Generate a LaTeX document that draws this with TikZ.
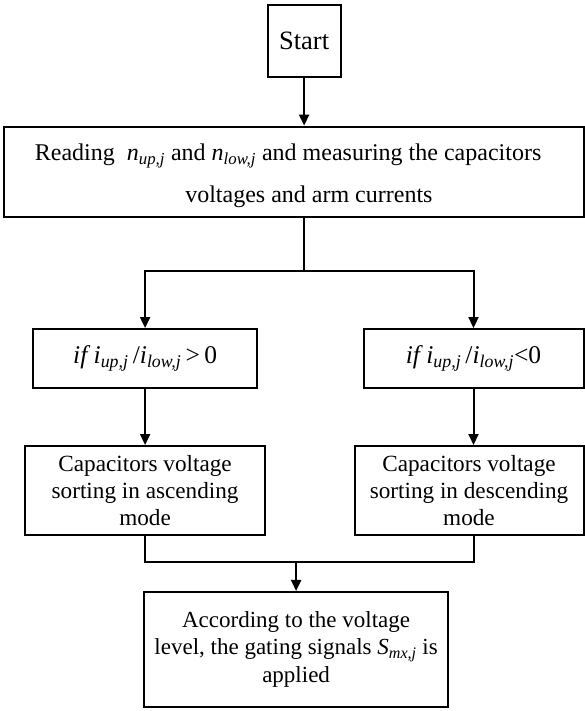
\documentclass[tikz,border=0pt]{standalone}
\usepackage{fontspec}
\setmainfont{Liberation Serif}
\usetikzlibrary{arrows.meta}
\newcommand{\sub}[1]{\textsubscript{\textit{#1}}}
\begin{document}
\begin{tikzpicture}[x=1pt,y=-1pt,
  font=\fontsize{23.2}{26.7}\selectfont,
  stepbox/.style={draw, line width=2pt, inner sep=0pt, align=center},
  conn/.style={line width=2pt},
  arr/.style={conn, -{Triangle[length=11pt,width=10pt]}}]
\useasboundingbox (0,0) rectangle (585,711);

\node[stepbox, minimum width=73, minimum height=72,
  font=\fontsize{26.5}{30}\selectfont] (start) at (304.1,41) {Start};
\node[stepbox, minimum width=580.5, minimum height=90,
  label={[align=center, xshift=15pt, yshift=-4pt,
          font=\fontsize{24}{41.7}\selectfont]center:{Reading\ \ \textit{n}\sub{up,j} and \textit{n}\sub{low,j} and measuring the capacitors\hspace*{41.6pt}\\voltages and arm currents}}]
  (read) at (293.9,171.6) {};
\node[stepbox, minimum width=224.7, minimum height=59.3,
  font=\fontsize{25.5}{30}\selectfont] (ifL) at (145.1,358.7)
  {\textit{if i}\sub{up,j}\,/\textit{i}\sub{low,j}\,{>}\,0};
\node[stepbox, minimum width=220, minimum height=59.3,
  font=\fontsize{25.5}{30}\selectfont] (ifR) at (473.5,358.7)
  {\textit{if i}\sub{up,j}\,/\textit{i}\sub{low,j}{<}0};
\node[stepbox, minimum width=239.5, minimum height=89] (sortL) at (145.1,490.5)
  {Capacitors voltage\\sorting in ascending\\mode};
\node[stepbox, minimum width=229, minimum height=89] (sortR) at (469,490.5)
  {Capacitors voltage\\sorting in descending\\mode};
\node[stepbox, minimum width=303.4, minimum height=114.7,
  font=\fontsize{23}{27.3}\selectfont] (final) at (296.1,649.3)
  {According to the voltage\\level, the gating signals \textit{S}\sub{mx,j} is\\applied};

\coordinate (split) at (304.1,270.7);
\coordinate (merge) at (296.1,562.3);

\draw[arr] (start.south) -- (start.south |- read.north);
\draw[conn] (start.south |- read.south) -- (split);
\draw[arr] (split) -| (ifL.north);
\draw[arr] (split) -| (ifR.north);
\draw[arr] (ifL.south) -- (sortL.north);
\draw[arr] (ifR.south) -- (ifR.south |- sortR.north);
\draw[conn] (sortL.south) |- (merge);
\draw[conn] (ifR.south |- sortR.south) |- (merge);
\draw[arr] (merge) -- (final.north);
\end{tikzpicture}
\end{document}
